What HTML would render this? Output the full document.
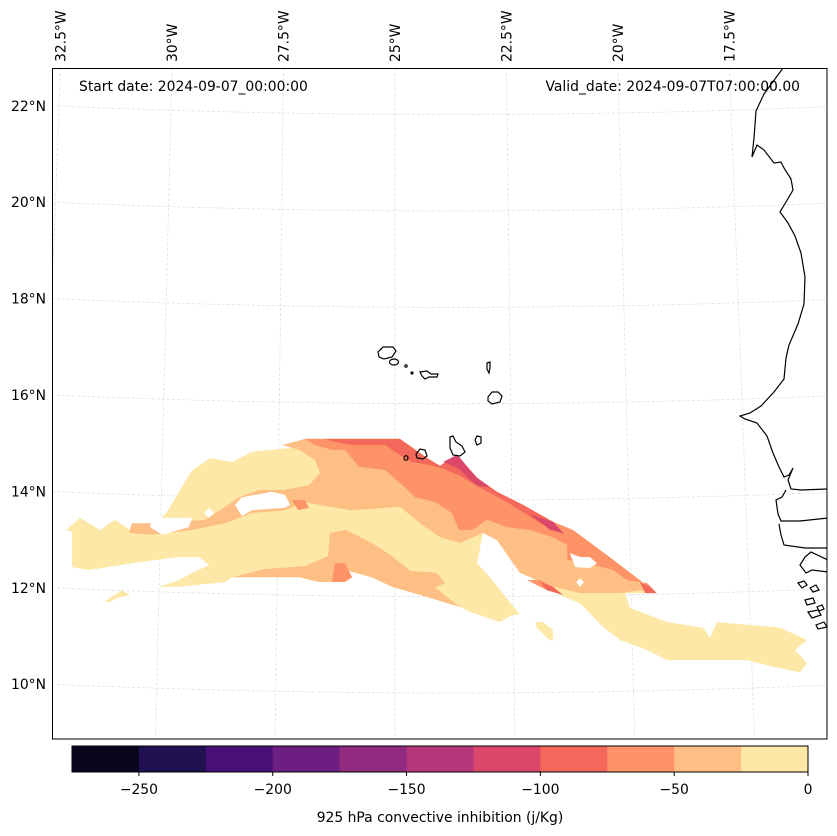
<!DOCTYPE html>
<html><head><meta charset="utf-8"><style>
html,body{margin:0;padding:0;background:#fff;}
svg{display:block;font-family:"DejaVu Sans","Liberation Sans",sans-serif;}
</style></head><body>
<svg id="chart" width="837" height="836" viewBox="0 0 837 836" xmlns="http://www.w3.org/2000/svg">
<defs><clipPath id="mapclip"><rect x="52" y="68" width="775" height="671"/></clipPath></defs>
<g id="grid" clip-path="url(#mapclip)"></g>
<g id="fills" clip-path="url(#mapclip)"></g>
<g id="coast" clip-path="url(#mapclip)" fill="none" stroke="#000" stroke-width="1.2">
<path d="M783,68 L764,94 L756,111 L754,138 L752,157 L757,145 L764,150 L774,163 L781,162 L784,168 L791,179 L793,190 L786,202 L780,212 L783,216 L788,223 L795,236 L801,253 L805,277 L804,304 L798,324 L789,345 L786,358 L784,379 L774,392 L761,406 L750,413 L740,416 L745,419 L757,423 L767,436 L773,453 L779,467 L784,477 L789,475 L793,468 L788,480 L791,489 L801,490 L828,489"/>
<path d="M828,518 L800,521 L781,521 L778,514 L776,500 L782,497 L786,490 M828,548 L805,548 L784,545 L781,535 L779,524 M828,560 L811,552 L805,557 L800,565 L806,573 L812,570 L828,572"/>
<path d="M798,583 l6,-2 l3,4 l-5,3z M810,588 l6,-3 l3,5 l-6,2z M805,600 l8,-2 l2,5 l-8,2z M817,607 l5,-2 l2,4 l-5,2z M808,612 l10,-2 l3,5 l-9,3z M816,625 l8,-3 l3,5 l-9,2z"/>
<path d="M378,352 L383,347 L393,347 L396,351 L392,357 L384,359 L379,357Z"/>
<ellipse cx="394" cy="362" rx="4.5" ry="3"/>
<circle cx="406" cy="366" r="1.2"/>
<circle cx="412" cy="373" r="1"/>
<path d="M420,372 L427,371 L431,374 L438,374 L437,377 L429,377 L425,379 L422,376Z"/>
<path d="M487,363 L490,362 L490,368 L489,373 L487,369Z"/>
<path d="M488,397 L492,392 L498,392 L502,396 L500,402 L492,404 L488,401Z"/>
<path d="M475,440 L477,436 L481,437 L481,443 L477,445Z"/>
<path d="M450,437 L453,436 L456,442 L462,446 L465,452 L460,456 L453,455 L450,448Z"/>
<path d="M416,454 L420,449 L425,450 L427,456 L423,459 L417,458Z"/>
<ellipse cx="406" cy="458" rx="2" ry="2.3"/>
</g>
<rect x="52.5" y="68.5" width="774.5" height="670.5" fill="none" stroke="#000" stroke-width="1"/>
<g id="gridlabels" font-size="13.9" fill="#000"></g>
<text x="79" y="91" font-size="13.9">Start date: 2024-09-07_00:00:00</text>
<text x="800" y="91" font-size="13.9" text-anchor="end">Valid_date: 2024-09-07T07:00:00.00</text>
<g id="cbar"></g>
<text x="440" y="822" font-size="13.9" text-anchor="middle">925 hPa convective inhibition (j/Kg)</text>
</svg>
<script>
const levels = [-275,-250,-225,-200,-175,-150,-125,-100,-75,-50,-25,0];
const levelColors = ["#08061c","#211150","#4a1079","#6d1f81","#902b80","#b5367a","#da476b","#f4685c","#fd9366","#febf84","#fde8a8"];
const cbTicks = [-250,-200,-150,-100,-50,0];
const lonTicks = [-32.5,-30,-27.5,-25,-22.5,-20,-17.5];
const latTicks = [22,20,18,16,14,12,10];

const band0Main = [[-32.38,13.20],[-32.06,13.45],[-31.61,13.20],[-31.28,13.41],[-30.94,13.20],[-30.45,13.20],[-30.09,13.61],[-29.82,14.03],[-29.55,14.44],[-29.15,14.69],[-28.65,14.61],[-28.21,14.82],[-27.35,14.90],[-27.02,15.09],[-24.89,15.09],[-24.28,14.69],[-23.99,14.53],[-23.61,14.76],[-23.16,14.28],[-22.71,13.99],[-22.13,13.72],[-21.46,13.37],[-21.19,13.10],[-21.01,13.20],[-20.11,12.58],[-19.13,11.89],[-19.84,11.89],[-19.73,11.58],[-18.90,11.29],[-18.09,11.17],[-17.94,10.96],[-17.78,11.29],[-16.37,11.17],[-15.76,10.92],[-16.03,10.71],[-15.76,10.44],[-15.92,10.25],[-16.53,10.36],[-17.11,10.50],[-18.90,10.50],[-19.35,10.71],[-19.96,10.92],[-20.34,11.19],[-20.85,11.68],[-21.30,11.85],[-21.75,12.06],[-22.38,12.54],[-22.71,12.99],[-23.03,13.14],[-23.16,12.51],[-22.87,12.22],[-22.20,11.44],[-22.35,11.44],[-22.65,11.29],[-23.32,11.50],[-23.54,11.60],[-24.28,11.81],[-25.04,12.02],[-25.52,12.22],[-26.12,12.37],[-26.41,12.12],[-26.70,12.12],[-27.15,12.22],[-27.76,12.22],[-28.65,12.22],[-28.81,12.12],[-29.84,12.02],[-30.29,12.02],[-29.84,12.16],[-29.55,12.31],[-29.17,12.47],[-29.39,12.64],[-29.84,12.64],[-30.90,12.51],[-31.86,12.37],[-32.24,12.43],[-32.24,13.16]];
const band0Small1 = [[-31.52,11.71],[-31.12,11.95],[-30.94,11.85],[-31.21,11.79],[-31.39,11.71]];
const band0Small2 = [[-21.86,11.29],[-21.68,11.29],[-21.46,11.12],[-21.46,10.88],[-21.59,10.96],[-21.82,11.17]];
const band1A = [[-27.53,14.96],[-27.02,15.09],[-24.89,15.09],[-24.28,14.69],[-23.99,14.53],[-23.61,14.76],[-23.16,14.28],[-22.71,13.99],[-22.13,13.72],[-21.46,13.37],[-21.01,13.20],[-20.11,12.58],[-19.13,11.89],[-19.51,11.95],[-19.96,11.89],[-20.85,11.89],[-21.46,12.02],[-22.20,12.31],[-22.71,12.99],[-23.03,13.14],[-23.54,12.93],[-23.99,13.05],[-24.44,13.34],[-24.89,13.68],[-25.96,13.61],[-26.48,13.68],[-27.02,13.78],[-27.47,13.61],[-28.21,13.55],[-28.81,13.34],[-29.55,13.20],[-30.45,13.10],[-30.96,13.14],[-30.90,13.34],[-30.22,13.34],[-29.26,13.41],[-28.81,13.68],[-28.50,13.88],[-28.05,14.03],[-27.47,14.03],[-26.93,14.13],[-26.68,14.38],[-26.79,14.65],[-27.15,14.86]];
const band1B = [[-28.65,12.22],[-27.91,12.39],[-27.02,12.45],[-26.50,12.66],[-26.46,13.14],[-26.10,13.20],[-25.52,12.93],[-25.07,12.66],[-24.66,12.35],[-24.06,12.31],[-23.88,12.10],[-24.10,12.00],[-23.54,11.60],[-24.28,11.81],[-25.07,12.02],[-25.52,12.22],[-26.12,12.37],[-26.41,12.12],[-26.70,12.12],[-27.15,12.22]];
const band2Main = [[-27.02,15.09],[-24.89,15.09],[-24.28,14.69],[-23.99,14.53],[-23.61,14.76],[-23.16,14.28],[-22.71,13.99],[-22.13,13.72],[-21.46,13.37],[-21.01,13.20],[-20.11,12.58],[-19.13,11.89],[-19.35,12.10],[-19.80,12.16],[-20.11,12.37],[-20.70,12.51],[-21.14,12.58],[-21.14,12.89],[-21.46,13.05],[-21.97,13.20],[-22.49,13.26],[-22.94,13.41],[-23.27,13.20],[-23.57,13.20],[-23.72,13.55],[-24.10,13.78],[-24.55,13.88],[-24.78,14.09],[-25.22,14.44],[-25.81,14.51],[-26.12,14.86],[-26.41,14.86],[-26.79,14.96]];
const band2P1 = [[-22.04,12.16],[-21.75,12.16],[-21.46,12.02],[-21.23,11.85],[-21.59,11.95]];
const band2P2 = [[-26.35,12.51],[-26.12,12.51],[-25.96,12.22],[-26.12,12.12],[-26.41,12.12]];
const band2P3 = [[-27.31,13.82],[-27.02,13.82],[-26.93,13.66],[-27.17,13.61]];
const band3Main = [[-26.57,15.09],[-24.89,15.09],[-24.28,14.69],[-23.99,14.53],[-23.61,14.76],[-23.16,14.28],[-22.71,13.99],[-22.13,13.72],[-21.46,13.37],[-21.19,13.10],[-21.59,13.26],[-22.13,13.57],[-22.49,13.78],[-23.16,14.11],[-23.50,14.30],[-23.88,14.46],[-24.24,14.55],[-24.62,14.61],[-25.00,14.82],[-25.22,14.96],[-25.96,14.96],[-26.35,15.03]];
const band3P1 = [[-19.51,12.12],[-19.28,12.02],[-19.13,11.89],[-19.39,11.89]];
const band3P2 = [[-21.75,12.12],[-21.46,12.02],[-21.23,11.85],[-21.59,11.95]];
const band4A = [[-23.92,14.61],[-23.61,14.76],[-23.54,14.69],[-23.32,14.44],[-23.16,14.28],[-22.87,14.09],[-23.14,14.11],[-23.36,14.28],[-23.59,14.49]];
const band4B = [[-21.97,13.53],[-21.82,13.47],[-21.46,13.37],[-21.23,13.14],[-21.52,13.20]];
const gapA = [[-30.45,13.45],[-29.55,13.45],[-29.62,13.26],[-30.22,13.10],[-30.49,13.26]];
const gapB = [[-28.59,13.72],[-28.43,13.88],[-27.76,13.99],[-27.47,13.93],[-27.35,13.72],[-27.47,13.66],[-28.21,13.61],[-28.43,13.49]];
const gapC = [[-29.28,13.55],[-29.17,13.66],[-29.06,13.55],[-29.17,13.45]];
const gapD = [[-21.08,12.72],[-20.85,12.64],[-20.63,12.64],[-20.47,12.51],[-20.63,12.41],[-20.96,12.43]];
const gapE = [[-20.94,12.12],[-20.85,12.20],[-20.76,12.12],[-20.85,12.02]];

const contourPolys = [
  {name:"cin-band-0-main", level:-25, pts:band0Main},
  {name:"cin-band-0-patch-west", level:-25, pts:band0Small1},
  {name:"cin-band-0-patch-south", level:-25, pts:band0Small2},
  {name:"cin-band-25-core", level:-50, pts:band1A},
  {name:"cin-band-25-south", level:-50, pts:band1B},
  {name:"cin-band-50-core", level:-75, pts:band2Main},
  {name:"cin-band-50-patch-a", level:-75, pts:band2P1},
  {name:"cin-band-50-patch-b", level:-75, pts:band2P2},
  {name:"cin-band-50-patch-c", level:-75, pts:band2P3},
  {name:"cin-band-75-core", level:-100, pts:band3Main},
  {name:"cin-band-75-patch-a", level:-100, pts:band3P1},
  {name:"cin-band-75-patch-b", level:-100, pts:band3P2},
  {name:"cin-band-100-a", level:-125, pts:band4A},
  {name:"cin-band-100-b", level:-125, pts:band4B}
];
const gaps = [gapA,gapB,gapC,gapD,gapE];

const NS="http://www.w3.org/2000/svg";
function xOf(lon){return 395+(lon+25)*44.6;}
function yOf(lat){return 395-(lat-16)*48.2;}
function colorFor(level){const i=levels.indexOf(level);return levelColors[i];}
function ptsStr(a){return a.map(p=>xOf(p[0]).toFixed(1)+","+yOf(p[1]).toFixed(1)).join(" ");}

const fills=document.getElementById("fills");
contourPolys.forEach(c=>{
  const el=document.createElementNS(NS,"polygon");
  el.setAttribute("points",ptsStr(c.pts));
  el.setAttribute("fill",colorFor(c.level));
  
  
  fills.appendChild(el);
});
gaps.forEach(g=>{
  const el=document.createElementNS(NS,"polygon");
  el.setAttribute("points",ptsStr(g));
  el.setAttribute("fill","#fff");
  
  
  fills.appendChild(el);
});

const grid=document.getElementById("grid");
const labels=document.getElementById("gridlabels");
lonTicks.forEach(lon=>{
  const xt=xOf(lon), xb=xt+(xt-395)*0.075;
  const l=document.createElementNS(NS,"line");
  l.setAttribute("x1",xt);l.setAttribute("y1",68);l.setAttribute("x2",xb);l.setAttribute("y2",739);
  l.setAttribute("stroke","#dcdcdc");l.setAttribute("stroke-width","0.7");l.setAttribute("stroke-dasharray","3,2");
  
  
  grid.appendChild(l);
  const t=document.createElementNS(NS,"text");
  t.setAttribute("transform","translate("+(xt+5)+",62) rotate(-90)");
  t.textContent=Math.abs(lon)+"°W";
  
  
  labels.appendChild(t);
});
latTicks.forEach(lat=>{
  const y=yOf(lat);
  const p=document.createElementNS(NS,"path");
  p.setAttribute("d","M52,"+y+" Q440,"+(y+17)+" 827,"+(y+1));
  p.setAttribute("fill","none");p.setAttribute("stroke","#dcdcdc");p.setAttribute("stroke-width","0.7");p.setAttribute("stroke-dasharray","3,2");
  
  
  grid.appendChild(p);
  const t=document.createElementNS(NS,"text");
  t.setAttribute("x",46);t.setAttribute("y",y+5);t.setAttribute("text-anchor","end");
  t.textContent=lat+"°N";
  
  
  labels.appendChild(t);
});

const cb=document.getElementById("cbar");
const cbX0=72,cbX1=808,cbY=746,cbH=26;
function cbx(v){return cbX0+(v-levels[0])/(levels[levels.length-1]-levels[0])*(cbX1-cbX0);}
for(let i=0;i<levelColors.length;i++){
  const r=document.createElementNS(NS,"rect");
  const x0=cbx(levels[i]),x1=cbx(levels[i+1]);
  r.setAttribute("x",x0);r.setAttribute("y",cbY);r.setAttribute("width",x1-x0+0.5);r.setAttribute("height",cbH);
  r.setAttribute("fill",levelColors[i]);
  
  
  cb.appendChild(r);
}
const frame=document.createElementNS(NS,"rect");
frame.setAttribute("x",cbX0);frame.setAttribute("y",cbY);frame.setAttribute("width",cbX1-cbX0);frame.setAttribute("height",cbH);
frame.setAttribute("fill","none");frame.setAttribute("stroke","#000");frame.setAttribute("stroke-width","1");


cb.appendChild(frame);
cbTicks.forEach(v=>{
  const x=cbx(v);
  const tk=document.createElementNS(NS,"line");
  tk.setAttribute("x1",x);tk.setAttribute("x2",x);tk.setAttribute("y1",cbY+cbH);tk.setAttribute("y2",cbY+cbH+4);
  tk.setAttribute("stroke","#000");
  
  
  cb.appendChild(tk);
  const t=document.createElementNS(NS,"text");
  t.setAttribute("x",x);t.setAttribute("y",794);t.setAttribute("text-anchor","middle");t.setAttribute("font-size","13.9");
  t.textContent=(v<0?"\u2212"+Math.abs(v):String(v));
  
  
  cb.appendChild(t);
});
</script>
</body></html>
